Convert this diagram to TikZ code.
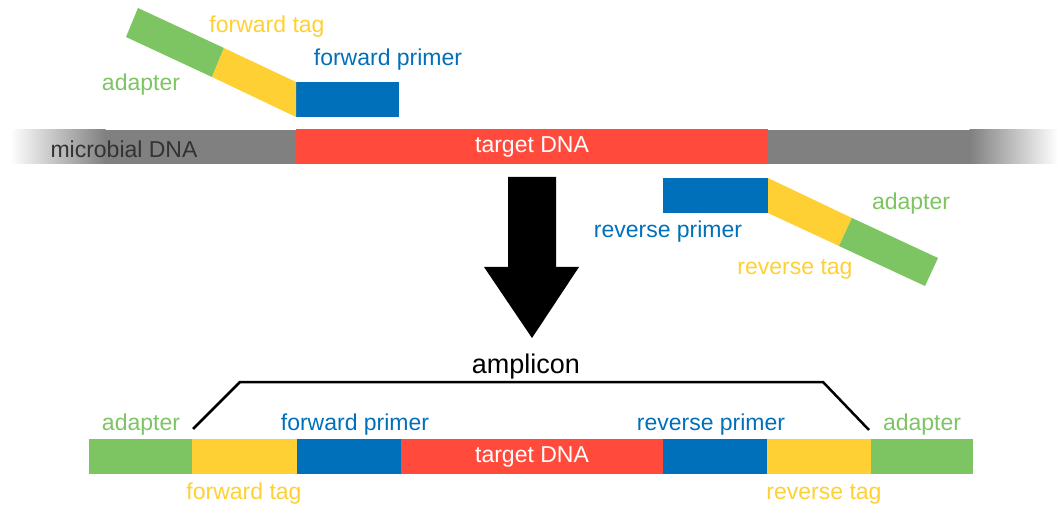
\documentclass[tikz,border=0pt]{standalone}
\usepackage{fontspec}
\setmainfont{Liberation Sans}
\definecolor{adgreen}{HTML}{7DC462}
\definecolor{tagyellow}{HTML}{FFD033}
\definecolor{primblue}{HTML}{0070BA}
\definecolor{tgtred}{HTML}{FF4A3C}
\definecolor{dnagray}{HTML}{808080}
\begin{document}
\begin{tikzpicture}[x=1pt,y=-1pt,
  seg/.style={draw=none,inner sep=0pt,outer sep=0pt,minimum height=35pt,
    minimum width=#1,text=white,font=\fontsize{23}{27}\selectfont},
  lbl/.style={inner sep=0pt,font=\fontsize{23}{27}\selectfont},
  greenlbl/.style={lbl,text=adgreen},
  yellowlbl/.style={lbl,text=tagyellow},
  bluelbl/.style={lbl,text=primblue},
]
\useasboundingbox (0,0) rectangle (1058,505);

% --- microbial DNA strand with faded ends ---
\shade[left color=white,right color=dnagray] (10,130) rectangle (105.5,164);
\fill[dnagray] (105,130) rectangle (970,164);
\shade[left color=dnagray,right color=white] (969.5,130) rectangle (1058,164);
\node[lbl,text=black!80] (micro) at (124,149) {microbial DNA};
\node[seg=472pt,fill=tgtred] (tgt) at (532,147) {target DNA};

% --- forward primer with tag and adapter ---
\node[seg=103pt,fill=primblue] (fp) at (347.5,99.5) {};
\fill[adgreen] (138,8) -- (224,48) -- (212,77) -- (126,37) -- cycle;
\fill[tagyellow] (224,48) -- (fp.north west) -- (fp.south west) -- (212,77) -- cycle;
\node[yellowlbl] (ftagT) at (267,27) {forward tag};
\node[bluelbl] (fpT) at (388,60) {forward primer};
\node[greenlbl] (adT1) at (141,85) {adapter};

% --- reverse primer with tag and adapter ---
\node[seg=105pt,fill=primblue] (rp) at (715.5,195.5) {};
\fill[tagyellow] (rp.north east) -- (852,218) -- (839,246) -- (rp.south east) -- cycle;
\fill[adgreen] (852,218) -- (938,258) -- (925,286) -- (839,246) -- cycle;
\node[bluelbl] (rpT) at (668,232) {reverse primer};
\node[greenlbl] (adT2) at (911,204) {adapter};
\node[yellowlbl] (rtagT) at (795,269) {reverse tag};

% --- PCR arrow ---
\fill[black] (508,177) -- (556,177) -- (556,267) -- (579,267) -- (532,338)
  -- (484,267) -- (508,267) -- cycle;
\node[lbl,font=\fontsize{27}{31}\selectfont] (amp) at (526,367) {amplicon};

% --- amplicon ---
\node[seg=103pt,fill=adgreen,anchor=west]    (a1) at (89,456.5) {};
\node[seg=105pt,fill=tagyellow,anchor=west]  (t1) at (a1.east) {};
\node[seg=104pt,fill=primblue,anchor=west]   (p1) at (t1.east) {};
\node[seg=262pt,fill=tgtred,anchor=west]     (tg) at (p1.east) {target DNA};
\node[seg=104pt,fill=primblue,anchor=west]   (p2) at (tg.east) {};
\node[seg=104pt,fill=tagyellow,anchor=west]  (t2) at (p2.east) {};
\node[seg=102pt,fill=adgreen,anchor=west]    (a2) at (t2.east) {};

\node[greenlbl]  (a1T) at (141,425) {adapter};
\node[bluelbl]   (p1T) at (355,425) {forward primer};
\node[yellowlbl] (t1T) at (244,494) {forward tag};
\node[bluelbl]   (p2T) at (711,425) {reverse primer};
\node[greenlbl]  (a2T) at (922,425) {adapter};
\node[yellowlbl] (t2T) at (824,494) {reverse tag};

% bracket spanning the amplicon
\coordinate (bl) at (193,429);
\coordinate (br) at (869,430);
\draw[line width=2.5pt,line join=miter] (bl) -- (240,382) -- (823,382) -- (br);
\end{tikzpicture}
\end{document}
